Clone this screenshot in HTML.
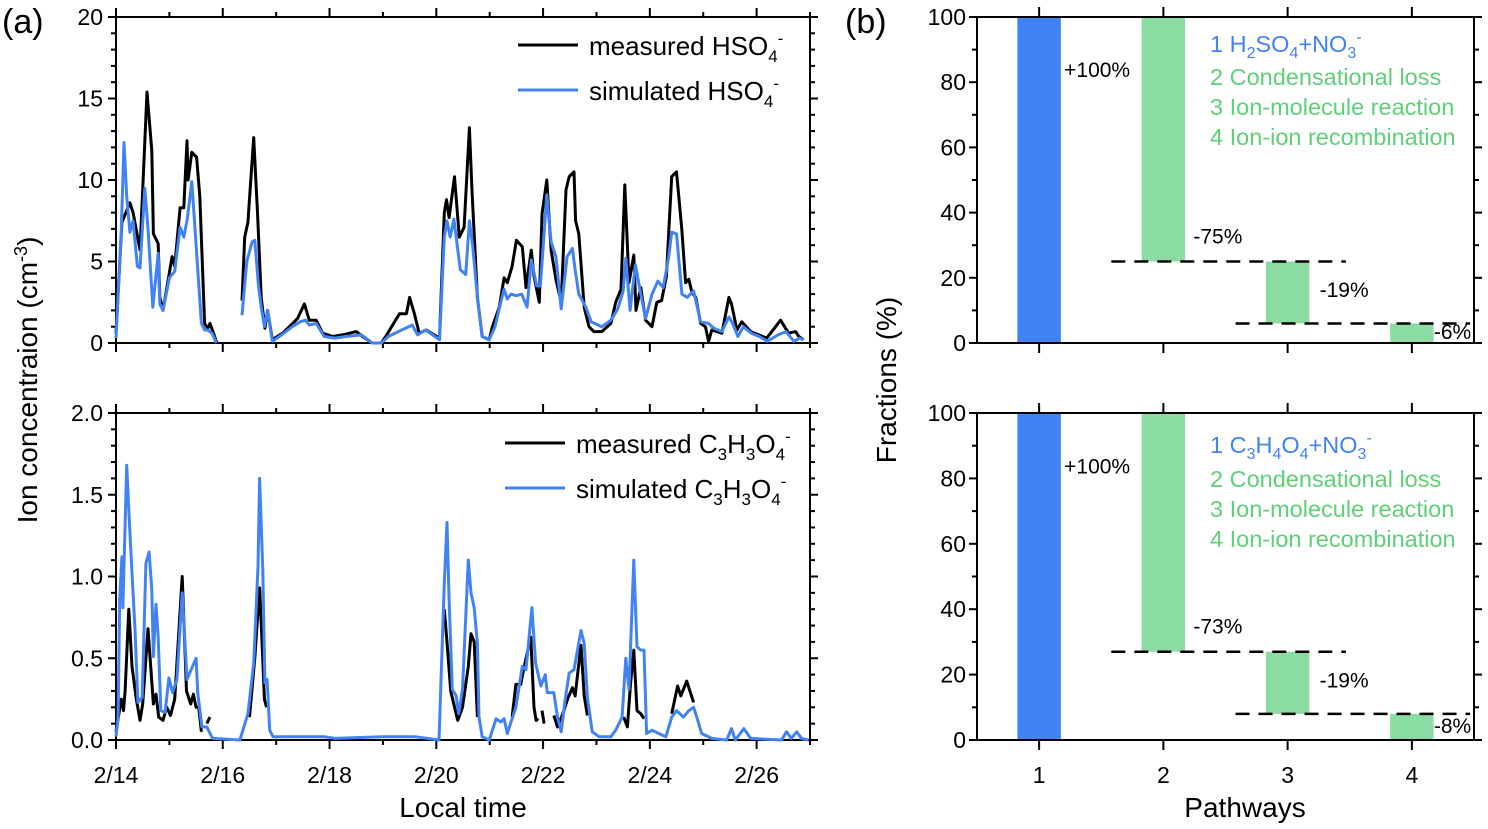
<!DOCTYPE html>
<html><head><meta charset="utf-8">
<style>
html,body{margin:0;padding:0;background:#fff;}
svg{display:block;font-family:"Liberation Sans",Arial,sans-serif;}
</style></head>
<body>
<svg id="chart" width="1488" height="829" viewBox="0 0 1488 829" xmlns="http://www.w3.org/2000/svg"></svg>
<script>
// ---------- DATA ----------
const hsoMeasT=[0,0.11,0.26,0.32,0.45,0.5,0.58,0.67,0.7,0.79,0.82,0.88,1.05,1.1,1.2,1.27,1.33,1.35,1.42,1.51,1.57,1.66,1.72,1.76,1.89,null,2.36,2.41,2.47,2.58,2.65,2.72,2.79,2.84,2.93,3.12,3.31,3.4,3.53,3.62,3.75,3.87,4.06,4.24,4.5,4.62,4.8,4.97,5.07,5.31,5.44,5.5,5.59,5.68,5.81,6.06,6.15,6.19,6.24,6.34,6.43,6.52,6.62,6.67,6.77,6.86,6.99,7.05,7.18,7.27,7.33,7.42,7.5,7.61,7.68,7.78,7.83,7.93,7.98,8.07,8.15,8.24,8.34,8.43,8.49,8.58,8.61,8.67,8.77,8.86,8.95,9.1,9.27,9.36,9.46,9.53,9.61,9.7,9.74,9.83,9.92,10.04,10.13,10.22,10.31,10.41,10.5,10.6,10.67,10.73,10.79,10.86,10.95,11.04,11.1,11.16,11.35,11.48,11.53,11.63,11.72,11.89,12.04,12.19,12.45,12.6,12.73,12.79,12.88];
const hsoMeasV=[0.6,7.4,8.6,8.0,5.7,9.4,15.4,11.8,6.7,6.1,2.8,2.0,5.3,4.7,8.3,8.3,12.4,10,11.7,11.4,9,1.2,0.9,1.2,0,null,2.6,6.5,7.4,12.6,8,2.8,0.9,2.0,0.2,0.6,1.2,1.5,2.4,1.4,1.4,0.6,0.4,0.5,0.7,0.4,0,0,0.5,1.8,1.8,2.8,1.8,0.6,0.8,0.3,8,8.8,7.7,10.2,6.5,7.1,13.2,9.2,2.8,0.4,0.2,1,2.2,4,3.7,4.7,6.3,5.9,3.4,5.7,4.1,2.5,7.9,10,5.7,3.9,2.5,9.4,10.2,10.5,7.5,6.7,2.2,1,0.7,0.7,1.2,2.5,3.3,9.7,3.7,5.4,2.0,3.4,1.4,1,2.5,2.6,4.1,10.2,10.5,6.9,3.7,3.9,3.1,2.8,1.2,1,0.1,0.8,0.6,2.8,2.4,0.8,1.3,0.7,0.5,0.3,1.4,0.6,0.7,0.4,0.2];
const hsoSimT=[0,0.1,0.15,0.2,0.26,0.32,0.4,0.45,0.54,0.6,0.69,0.79,0.82,0.88,1.0,1.1,1.2,1.27,1.33,1.38,1.42,1.5,1.6,1.66,1.72,1.8,1.88,null,2.36,2.45,2.55,2.6,2.67,2.72,2.78,2.84,2.9,2.93,3.1,3.3,3.45,3.55,3.62,3.75,3.9,4.1,4.3,4.6,4.8,4.97,5.1,5.35,5.55,5.65,5.8,6.06,6.15,6.2,6.26,6.33,6.45,6.55,6.62,6.68,6.78,6.86,6.99,7.1,7.2,7.27,7.33,7.4,7.5,7.6,7.7,7.78,7.88,7.95,8.07,8.15,8.24,8.34,8.45,8.55,8.6,8.67,8.8,8.9,9.1,9.27,9.4,9.5,9.55,9.63,9.73,9.83,9.92,10.04,10.15,10.25,10.35,10.41,10.5,10.6,10.7,10.82,10.95,11.1,11.2,11.35,11.48,11.55,11.65,11.75,11.9,12.05,12.2,12.4,12.55,12.7,12.8,12.88];
const hsoSimV=[0.3,7,12.3,9,6.8,7.5,4.7,4.6,9.5,7,2.2,5.5,2.4,2.0,4.0,4.4,7.1,6.5,7.5,8.8,9.9,6,1.2,0.8,0.8,0.6,0,null,1.7,5.0,6.2,6.3,3.5,2.2,1.0,2.0,0.7,0.1,0.5,1.0,1.3,1.4,1.1,1.2,0.4,0.3,0.4,0.5,0,0,0.4,0.8,1.1,0.5,0.8,0.2,6.5,7.5,6.5,7.6,4.5,4.2,7.5,6,2.5,0.4,0.2,1,2.4,3.3,2.7,3.0,2.9,3.0,2.2,5.1,3.5,3.5,9.1,6.2,5.3,2.1,5.3,5.8,4.5,3.0,2.2,1.3,1.0,1.4,2.1,3.2,5.2,2.0,4.8,3.0,1.5,3.0,3.8,3.4,5.2,6.8,6.7,3.0,2.8,3.2,1.3,1.2,0.9,0.7,1.6,1.2,0.4,1.0,0.6,0.4,0.1,0.5,0.7,0.1,0.3,0.2];
const c3MeasT=[0,0.1,0.14,0.17,0.24,0.3,0.38,0.45,0.5,0.6,0.65,0.7,0.75,0.8,0.88,0.95,1.02,1.1,1.24,1.32,1.4,1.45,1.5,1.55,1.6,null,1.7,1.76,null,2.5,2.6,2.69,2.73,2.78,2.82,null,6.15,6.2,6.27,6.4,6.49,6.6,6.65,6.71,6.77,null,7.42,7.49,7.58,7.64,7.77,7.83,7.87,7.91,null,7.98,8.02,null,8.2,8.27,8.37,8.46,8.55,8.6,8.71,8.77,8.83,null,9.51,9.58,9.64,9.7,9.76,9.83,9.89,null,10.41,10.52,10.58,10.69,10.79,10.82];
const c3MeasV=[0.05,0.25,0.18,0.3,0.8,0.45,0.25,0.12,0.22,0.68,0.45,0.22,0.28,0.14,0.12,0.2,0.15,0.25,1.0,0.3,0.22,0.28,0.2,0.2,0.05,null,0.1,0.14,null,0.14,0.5,0.93,0.65,0.25,0.2,null,0.8,0.6,0.3,0.12,0.2,0.45,0.65,0.6,0.14,null,0.14,0.34,0.34,0.44,0.63,0.2,0.12,0.13,null,0.18,0.1,null,0.15,0.08,0.16,0.25,0.32,0.27,0.58,0.27,0.15,null,0.14,0.08,0.35,0.55,0.18,0.16,0.13,null,0.16,0.33,0.27,0.36,0.26,0.23];
const c3SimT=[0,0.04,0.07,0.11,0.13,0.2,0.26,0.36,0.41,0.49,0.56,0.62,0.67,0.7,0.75,0.79,0.84,0.92,0.99,1.06,1.14,1.24,1.33,1.42,1.5,1.53,1.61,1.7,1.81,2.32,2.47,2.58,2.66,2.69,2.75,2.79,2.83,2.88,2.94,3.9,4.1,5.0,5.6,6.05,6.15,6.2,6.24,6.3,6.37,6.42,6.49,6.6,6.65,6.71,6.77,6.8,6.86,6.99,7.12,7.21,7.27,7.33,7.4,7.49,7.61,7.68,7.79,7.86,7.96,8.04,8.08,8.2,8.27,8.34,8.41,8.49,8.58,8.71,8.77,8.83,8.92,9.05,9.27,9.36,9.48,9.55,9.61,9.7,9.76,9.83,9.89,9.94,10.04,10.17,10.3,10.41,10.5,10.63,10.73,10.82,10.88,10.97,11.16,11.44,11.53,11.6,11.76,11.89,12.47,12.56,12.65,12.75,12.84,12.97];
const c3SimV=[0.02,0.14,0.86,1.12,0.81,1.68,1.27,0.65,0.23,0.26,1.08,1.15,0.92,0.51,0.83,0.63,0.18,0.17,0.38,0.29,0.37,0.9,0.37,0.44,0.5,0.29,0.08,0.08,0.01,0,0.16,0.47,1.06,1.6,1.04,0.35,0.37,0.06,0.02,0.02,0.01,0.02,0.02,0,0.96,1.33,0.86,0.31,0.27,0.16,0.31,1.1,0.9,0.81,0.59,0.14,0.02,0,0.13,0.11,0.13,0.04,0.11,0.2,0.45,0.43,0.81,0.47,0.33,0.4,0.29,0.29,0.14,0.05,0.24,0.41,0.43,0.67,0.59,0.26,0.05,0.02,0.02,0.06,0.14,0.5,0.31,1.1,0.57,0.55,0.55,0.04,0.06,0.04,0.02,0.14,0.18,0.14,0.18,0.2,0.14,0.04,0.01,0,0.07,0,0.07,0.01,0,0.05,0.01,0.05,0.01,0];
const xTickLabels=["2/14","2/16","2/18","2/20","2/22","2/24","2/26"];
const topYTicks=[0,5,10,15,20];
const botYTicks=["0.0","0.5","1.0","1.5","2.0"];
const pathways=[1,2,3,4];
const fracYTicks=[0,20,40,60,80,100];
const hsoBarBase=[0,25,6,0];
const hsoBarTop=[100,100,25,6];
const hsoBarLabels=["+100%","-75%","-19%","-6%"];
const c3BarBase=[0,27,8,0];
const c3BarTop=[100,100,27,8];
const c3BarLabels=["+100%","-73%","-19%","-8%"];

// ---------- DRAW ----------
const NS="http://www.w3.org/2000/svg";
const svg=document.getElementById('chart');
function el(tag,attrs,parent){const e=document.createElementNS(NS,tag);for(const k in attrs)e.setAttribute(k,attrs[k]);(parent||svg).appendChild(e);return e;}
function txt(s,x,y,size,anchor,fill,parent){const t=el('text',{x:x,y:y,'font-size':size,'text-anchor':anchor||'middle',fill:fill||'#000'},parent);t.textContent=s;return t;}
const BLUE="#4183f5", GREEN="#8bdca3";

const LX0=116, LX1=810, DAYS=13;
const xs=d=>LX0+d*(LX1-LX0)/DAYS;
function linePath(T,V,ys){let d="",pen=false;for(let i=0;i<T.length;i++){if(T[i]===null||V[i]===null){pen=false;continue;}d+=(pen?"L":"M")+xs(T[i]).toFixed(1)+","+ys(V[i]).toFixed(1);pen=true;}return d;}
function leftFrame(top,bot,name){
  const g=el('g',{});
  
  
  el('rect',{x:LX0,y:top,width:LX1-LX0,height:bot-top,fill:'none',stroke:'#000','stroke-width':2},g);
  for(let d=0;d<=DAYS;d++){const x=xs(d),L=(d%2===0)?9:5;
    el('line',{x1:x,y1:bot,x2:x,y2:bot+L,stroke:'#000','stroke-width':2},g);
    el('line',{x1:x,y1:top,x2:x,y2:top-L,stroke:'#000','stroke-width':2},g);}
  for(let i=0;i<=20;i++){const y=bot-i*(bot-top)/20,L=(i%5===0)?8:5;
    el('line',{x1:LX0,y1:y,x2:LX0-L,y2:y,stroke:'#000','stroke-width':2},g);
    el('line',{x1:LX1,y1:y,x2:LX1+L,y2:y,stroke:'#000','stroke-width':2},g);}
  return g;
}
const T0=17,T1=343;
const ysTop=v=>T1-v*(T1-T0)/20;
leftFrame(T0,T1,'hso4-panel-frame');
topYTicks.forEach(v=>{const t=txt(String(v),103,ysTop(v)+8,23,'end');});
let p=el('path',{d:linePath(hsoMeasT,hsoMeasV,ysTop),fill:'none',stroke:'#000','stroke-width':3,'stroke-linejoin':'round'});

p=el('path',{d:linePath(hsoSimT,hsoSimV,ysTop),fill:'none',stroke:BLUE,'stroke-width':3,'stroke-linejoin':'round'});

const B0=413,B1=740;
const ysBot=v=>B1-v*(B1-B0)/2;
leftFrame(B0,B1,'c3h3o4-panel-frame');
botYTicks.forEach(v=>{const t=txt(v,103,ysBot(parseFloat(v))+8,23,'end');});
p=el('path',{d:linePath(c3MeasT,c3MeasV,ysBot),fill:'none',stroke:'#000','stroke-width':3,'stroke-linejoin':'round'});

p=el('path',{d:linePath(c3SimT,c3SimV,ysBot),fill:'none',stroke:BLUE,'stroke-width':3,'stroke-linejoin':'round'});

xTickLabels.forEach((s,i)=>{const t=txt(s,xs(i*2),783,23,'middle');});

const RX0=977,RX1=1474;
const xc=c=>RX0+(c-0.5)*(RX1-RX0)/4;
function rightPanel(top,bot,base,tops,labels,name){
  const ys=v=>bot-v*(bot-top)/100;
  const g=el('g',{});
  
  
  const hw=0.175*(RX1-RX0)/4;
  pathways.forEach((c,i)=>{
    const r=el('rect',{x:xc(c)-hw,y:ys(tops[i]),width:2*hw,height:ys(base[i])-ys(tops[i]),fill:i===0?BLUE:GREEN},g);
    
    
  });
  for(let i=1;i<pathways.length-1;i++){
    const ln=el('line',{x1:xc(pathways[i])-0.42*124,x2:xc(pathways[i+1])+0.47*124,y1:ys(base[i]),y2:ys(base[i]),stroke:'#000','stroke-width':2.5,'stroke-dasharray':'14,9'},g);
    
    
  }
  el('rect',{x:RX0,y:top,width:RX1-RX0,height:bot-top,fill:'none',stroke:'#000','stroke-width':2},g);
  fracYTicks.forEach(v=>{
    el('line',{x1:RX0,y1:ys(v),x2:RX0-8,y2:ys(v),stroke:'#000','stroke-width':2},g);
    el('line',{x1:RX1,y1:ys(v),x2:RX1+8,y2:ys(v),stroke:'#000','stroke-width':2},g);
    if(v<100){const ym=ys(v+10);
      el('line',{x1:RX0,y1:ym,x2:RX0-5,y2:ym,stroke:'#000','stroke-width':2},g);
      el('line',{x1:RX1,y1:ym,x2:RX1+5,y2:ym,stroke:'#000','stroke-width':2},g);}
    const t=txt(String(v),966,ys(v)+8,23,'end','#000',g);
    
  });
  pathways.forEach(c=>{
    el('line',{x1:xc(c),y1:bot,x2:xc(c),y2:bot+10,stroke:'#000','stroke-width':2},g);
    el('line',{x1:xc(c),y1:top,x2:xc(c),y2:top-10,stroke:'#000','stroke-width':2},g);
  });
  const lx=[xc(1)+25,xc(2)+30,xc(3)+32,xc(4)+22];
  const ly=[ys(84),ys(base[1]+8),ys((base[2]+tops[2])/2+1),ys((base[3]+tops[3])/2)-2];
  labels.forEach((s,i)=>{const t=txt(s,lx[i],ly[i]+8,21,'start','#000',g);});
  return ys;
}
rightPanel(17,343,hsoBarBase,hsoBarTop,hsoBarLabels,'hso4-pathway-panel');
rightPanel(413,740,c3BarBase,c3BarTop,c3BarLabels,'c3h3o4-pathway-panel');
pathways.forEach(c=>{const t=txt(String(c),xc(c),783,23,'middle');});
</script>
<svg width="1488" height="829" style="position:absolute;left:0;top:0" xmlns="http://www.w3.org/2000/svg" font-family="Liberation Sans, Arial, sans-serif">
  <text x="2" y="33" font-size="34">(a)</text>
  <text x="845" y="33" font-size="34">(b)</text>
  <text transform="translate(37,380) rotate(-90)" text-anchor="middle" font-size="28">Ion concentraion (cm<tspan dy="-10" font-size="18">-3</tspan><tspan dy="10">)</tspan></text>
  <text x="463" y="817" text-anchor="middle" font-size="28">Local time</text>
  <text transform="translate(896,380) rotate(-90)" text-anchor="middle" font-size="28">Fractions (%)</text>
  <text x="1245" y="817" text-anchor="middle" font-size="28">Pathways</text>
  <g>
    <line x1="518" y1="45" x2="578" y2="45" stroke="#000" stroke-width="3"/>
    <text x="589" y="55" font-size="26">measured HSO<tspan dy="7" font-size="17">4</tspan><tspan dy="-18" font-size="17">-</tspan></text>
    <line x1="518" y1="90" x2="578" y2="90" stroke="#4183f5" stroke-width="3"/>
    <text x="589" y="100" font-size="26">simulated HSO<tspan dy="7" font-size="17">4</tspan><tspan dy="-18" font-size="17">-</tspan></text>
  </g>
  <g>
    <line x1="505" y1="443" x2="565" y2="443" stroke="#000" stroke-width="3"/>
    <text x="576" y="453" font-size="26">measured C<tspan dy="7" font-size="17">3</tspan><tspan dy="-7">H</tspan><tspan dy="7" font-size="17">3</tspan><tspan dy="-7">O</tspan><tspan dy="7" font-size="17">4</tspan><tspan dy="-18" font-size="17">-</tspan></text>
    <line x1="505" y1="488" x2="565" y2="488" stroke="#4183f5" stroke-width="3"/>
    <text x="576" y="498" font-size="26">simulated C<tspan dy="7" font-size="17">3</tspan><tspan dy="-7">H</tspan><tspan dy="7" font-size="17">3</tspan><tspan dy="-7">O</tspan><tspan dy="7" font-size="17">4</tspan><tspan dy="-18" font-size="17">-</tspan></text>
  </g>
  <g font-size="23.5">
    <text x="1210" y="52" fill="#4183f5">1 H<tspan dy="6" font-size="16">2</tspan><tspan dy="-6">SO</tspan><tspan dy="6" font-size="16">4</tspan><tspan dy="-6">+NO</tspan><tspan dy="6" font-size="16">3</tspan><tspan dy="-16" font-size="16">-</tspan></text>
    <text x="1210" y="85" fill="#5fcf78">2 Condensational loss</text>
    <text x="1210" y="115" fill="#5fcf78">3 Ion-molecule reaction</text>
    <text x="1210" y="145" fill="#5fcf78">4 Ion-ion recombination</text>
  </g>
  <g font-size="23.5">
    <text x="1210" y="453" fill="#4183f5">1 C<tspan dy="6" font-size="16">3</tspan><tspan dy="-6">H</tspan><tspan dy="6" font-size="16">4</tspan><tspan dy="-6">O</tspan><tspan dy="6" font-size="16">4</tspan><tspan dy="-6">+NO</tspan><tspan dy="6" font-size="16">3</tspan><tspan dy="-16" font-size="16">-</tspan></text>
    <text x="1210" y="487" fill="#5fcf78">2 Condensational loss</text>
    <text x="1210" y="517" fill="#5fcf78">3 Ion-molecule reaction</text>
    <text x="1210" y="547" fill="#5fcf78">4 Ion-ion recombination</text>
  </g>
</svg>
</body></html>
